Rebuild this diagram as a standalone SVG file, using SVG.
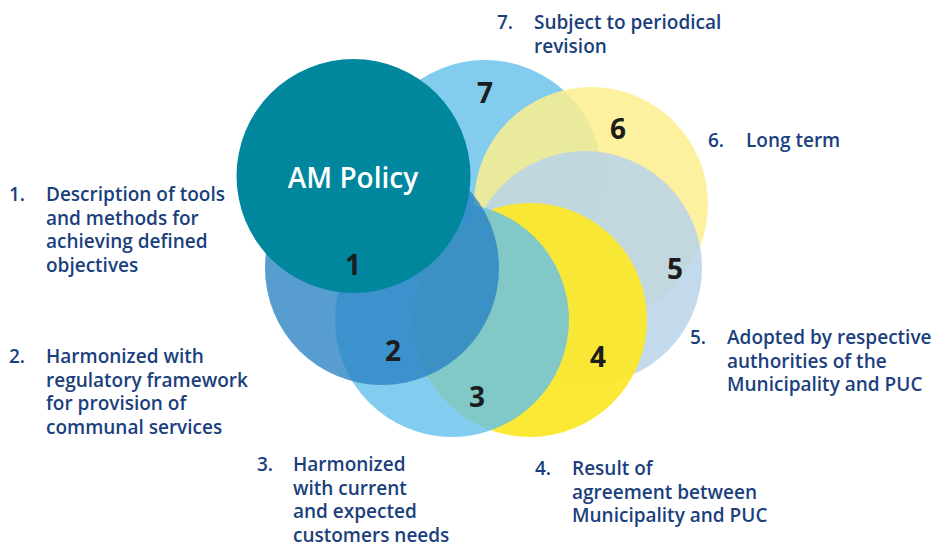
<svg xmlns="http://www.w3.org/2000/svg" width="938" height="547" viewBox="0 0 938 547">
<style>
.lbl{font-family:"Open Sans","Liberation Sans",sans-serif;font-weight:600;font-size:19px;fill:#1b3f7d}
.num{font-family:"Open Sans","Liberation Sans",sans-serif;font-weight:700;font-size:28px;fill:#1c1c1c;text-anchor:middle}
.title{font-family:"Open Sans","Liberation Sans",sans-serif;font-weight:600;font-size:28px;fill:#ffffff;text-anchor:middle}
</style>
<rect width="938" height="547" fill="#ffffff"/>
<g id="c7"><circle cx="485" cy="177" r="117" fill="#82ccee"/></g>
<g id="c6"><circle cx="591" cy="204" r="117" fill="#fdef8e" fill-opacity="0.85"/></g>
<g id="c5"><circle cx="585" cy="268" r="117" fill="#b9d4e9" fill-opacity="0.85"/></g>
<g id="c4"><circle cx="530" cy="320" r="117" fill="#fbe82a" fill-opacity="0.95"/></g>
<g id="c3"><circle cx="452" cy="320" r="117" fill="#63c1eb" fill-opacity="0.8"/></g>
<g id="c1"><circle cx="382" cy="268" r="117" fill="#2882c3" fill-opacity="0.78"/></g>
<g id="am-policy"><circle cx="353.5" cy="176" r="117" fill="#00879e"/>
<text class="title" x="353" y="188">AM Policy</text></g>
<g id="numbers">
<text class="num" x="485" y="103">7</text>
<text class="num" x="618" y="139">6</text>
<text class="num" x="675" y="279">5</text>
<text class="num" x="598" y="367">4</text>
<text class="num" x="477" y="407">3</text>
<text class="num" x="393" y="361">2</text>
<text class="num" x="353" y="275">1</text>
</g>
<g id="label7"><text class="lbl" x="497" y="29">7.</text>
<text class="lbl" x="534" y="29">Subject to periodical<tspan x="534" dy="23.5">revision</tspan></text></g>
<g id="label6"><text class="lbl" x="708" y="147">6.</text>
<text class="lbl" x="746" y="147">Long term</text></g>
<g id="label5"><text class="lbl" x="690" y="344">5.</text>
<text class="lbl" x="727" y="344">Adopted by respective<tspan x="727" dy="23.5">authorities of the</tspan><tspan x="727" dy="23.5">Municipality and PUC</tspan></text></g>
<g id="label4"><text class="lbl" x="535" y="475">4.</text>
<text class="lbl" x="572" y="475">Result of<tspan x="572" dy="23.5">agreement between</tspan><tspan x="572" dy="23.5">Municipality and PUC</tspan></text></g>
<g id="label3"><text class="lbl" x="257" y="471">3.</text>
<text class="lbl" x="293" y="471">Harmonized<tspan x="293" dy="23.6">with current</tspan><tspan x="293" dy="23.6">and expected</tspan><tspan x="293" dy="23.6">customers needs</tspan></text></g>
<g id="label1"><text class="lbl" x="9" y="201">1.</text>
<text class="lbl" x="46" y="201">Description of tools<tspan x="46" dy="23.5">and methods for</tspan><tspan x="46" dy="23.5">achieving defined</tspan><tspan x="46" dy="23.5">objectives</tspan></text></g>
<g id="label2"><text class="lbl" x="9" y="363">2.</text>
<text class="lbl" x="46" y="363">Harmonized with<tspan x="46" dy="23.5">regulatory framework</tspan><tspan x="46" dy="23.5">for provision of</tspan><tspan x="46" dy="23.5">communal services</tspan></text></g>
</svg>
